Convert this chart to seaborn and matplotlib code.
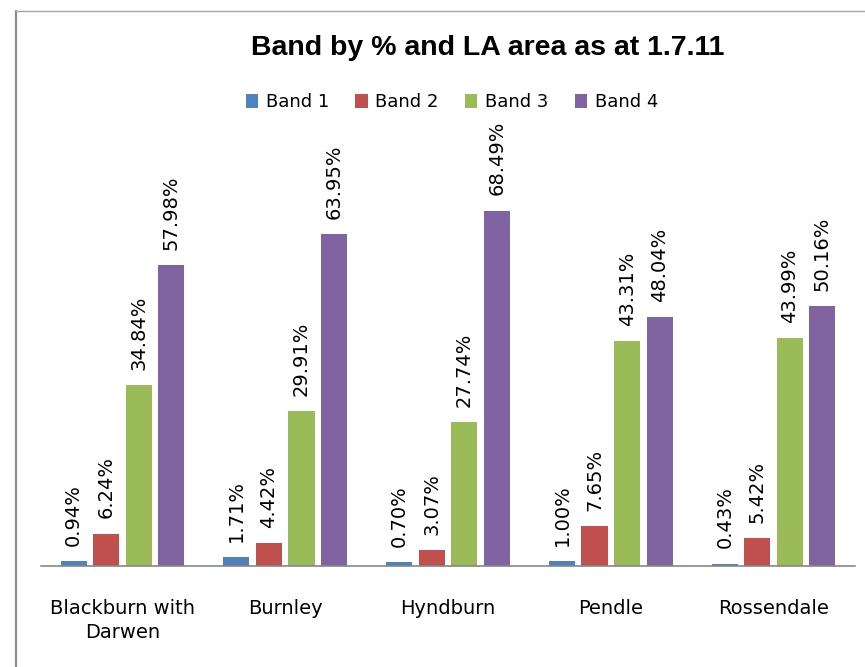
import matplotlib
matplotlib.use("Agg")
import matplotlib.pyplot as plt
from matplotlib.lines import Line2D
from matplotlib.patches import Patch
import seaborn as sns
import pandas as pd

areas = ["Blackburn with\nDarwen", "Burnley", "Hyndburn", "Pendle", "Rossendale"]
bands = ["Band 1", "Band 2", "Band 3", "Band 4"]
band1 = [0.94, 1.71, 0.70, 1.00, 0.43]
band2 = [6.24, 4.42, 3.07, 7.65, 5.42]
band3 = [34.84, 29.91, 27.74, 43.31, 43.99]
band4 = [57.98, 63.95, 68.49, 48.04, 50.16]
colors = ["#4F81BD", "#C0504D", "#9BBB59", "#8064A2"]

rows = []
for band, vals in zip(bands, [band1, band2, band3, band4]):
    for area, v in zip(areas, vals):
        rows.append({"area": area, "band": band, "pct": v})
df = pd.DataFrame(rows)

sns.set_style("white")
plt.rcParams["font.family"] = ["DejaVu Sans"]
plt.rcParams["text.color"] = "black"
plt.rcParams["xtick.color"] = "black"

fig = plt.figure(figsize=(8.65, 6.67), dpi=100)
ax = fig.add_axes([41 / 865, 1 - 566 / 667, (855 - 41) / 865, (566 - 151) / 667])

sns.barplot(data=df, x="area", y="pct", hue="band", order=areas, hue_order=bands,
            palette=colors, width=0.8, gap=0.2, saturation=1, errorbar=None,
            linewidth=0, legend=False, ax=ax)

ax.set_ylim(0, 80)
ax.set_xlim(-0.5, len(areas) - 0.5)
ax.set_xlabel("")
ax.set_ylabel("")
ax.set_yticks([])
for side in ["left", "right", "top"]:
    ax.spines[side].set_visible(False)
ax.spines["bottom"].set_color("#868686")
ax.spines["bottom"].set_linewidth(1.2)
ax.tick_params(axis="x", length=0, pad=24, labelsize=14, labelcolor="black")
for t in ax.get_xticklabels():
    t.set_linespacing(1.3)

for container in ax.containers:
    for bar in container:
        h = bar.get_height()
        ax.annotate(f"{h:.2f}%", (bar.get_x() + bar.get_width() / 2, h),
                    xytext=(0, 11), textcoords="offset points",
                    rotation=90, ha="center", va="bottom", fontsize=14,
                    color="black")

fig.text(488 / 865, 1 - 48 / 667, "Band by % and LA area as at 1.7.11",
         ha="center", va="center", fontsize=20.5, fontweight="bold",
         color="black", family=["Liberation Sans", "DejaVu Sans"])

handles = [Patch(facecolor=c, edgecolor="none") for c in colors]
fig.legend(handles, bands, loc="center", bbox_to_anchor=(452 / 865, 1 - 102 / 667),
           ncol=4, frameon=False, fontsize=13, handlelength=0.67, handleheight=0.85,
           handletextpad=0.44, columnspacing=1.45, labelcolor="black")

# chart border
fig.add_artist(Line2D([15.5 / 865, 15.5 / 865], [0, 1 - 10.5 / 667],
                      transform=fig.transFigure, color="#8c8c8c", lw=1.6))
fig.add_artist(Line2D([15.5 / 865, 1], [1 - 10.5 / 667, 1 - 10.5 / 667],
                      transform=fig.transFigure, color="#a6a6a6", lw=1.0))

fig.savefig("out.png", dpi=100)
